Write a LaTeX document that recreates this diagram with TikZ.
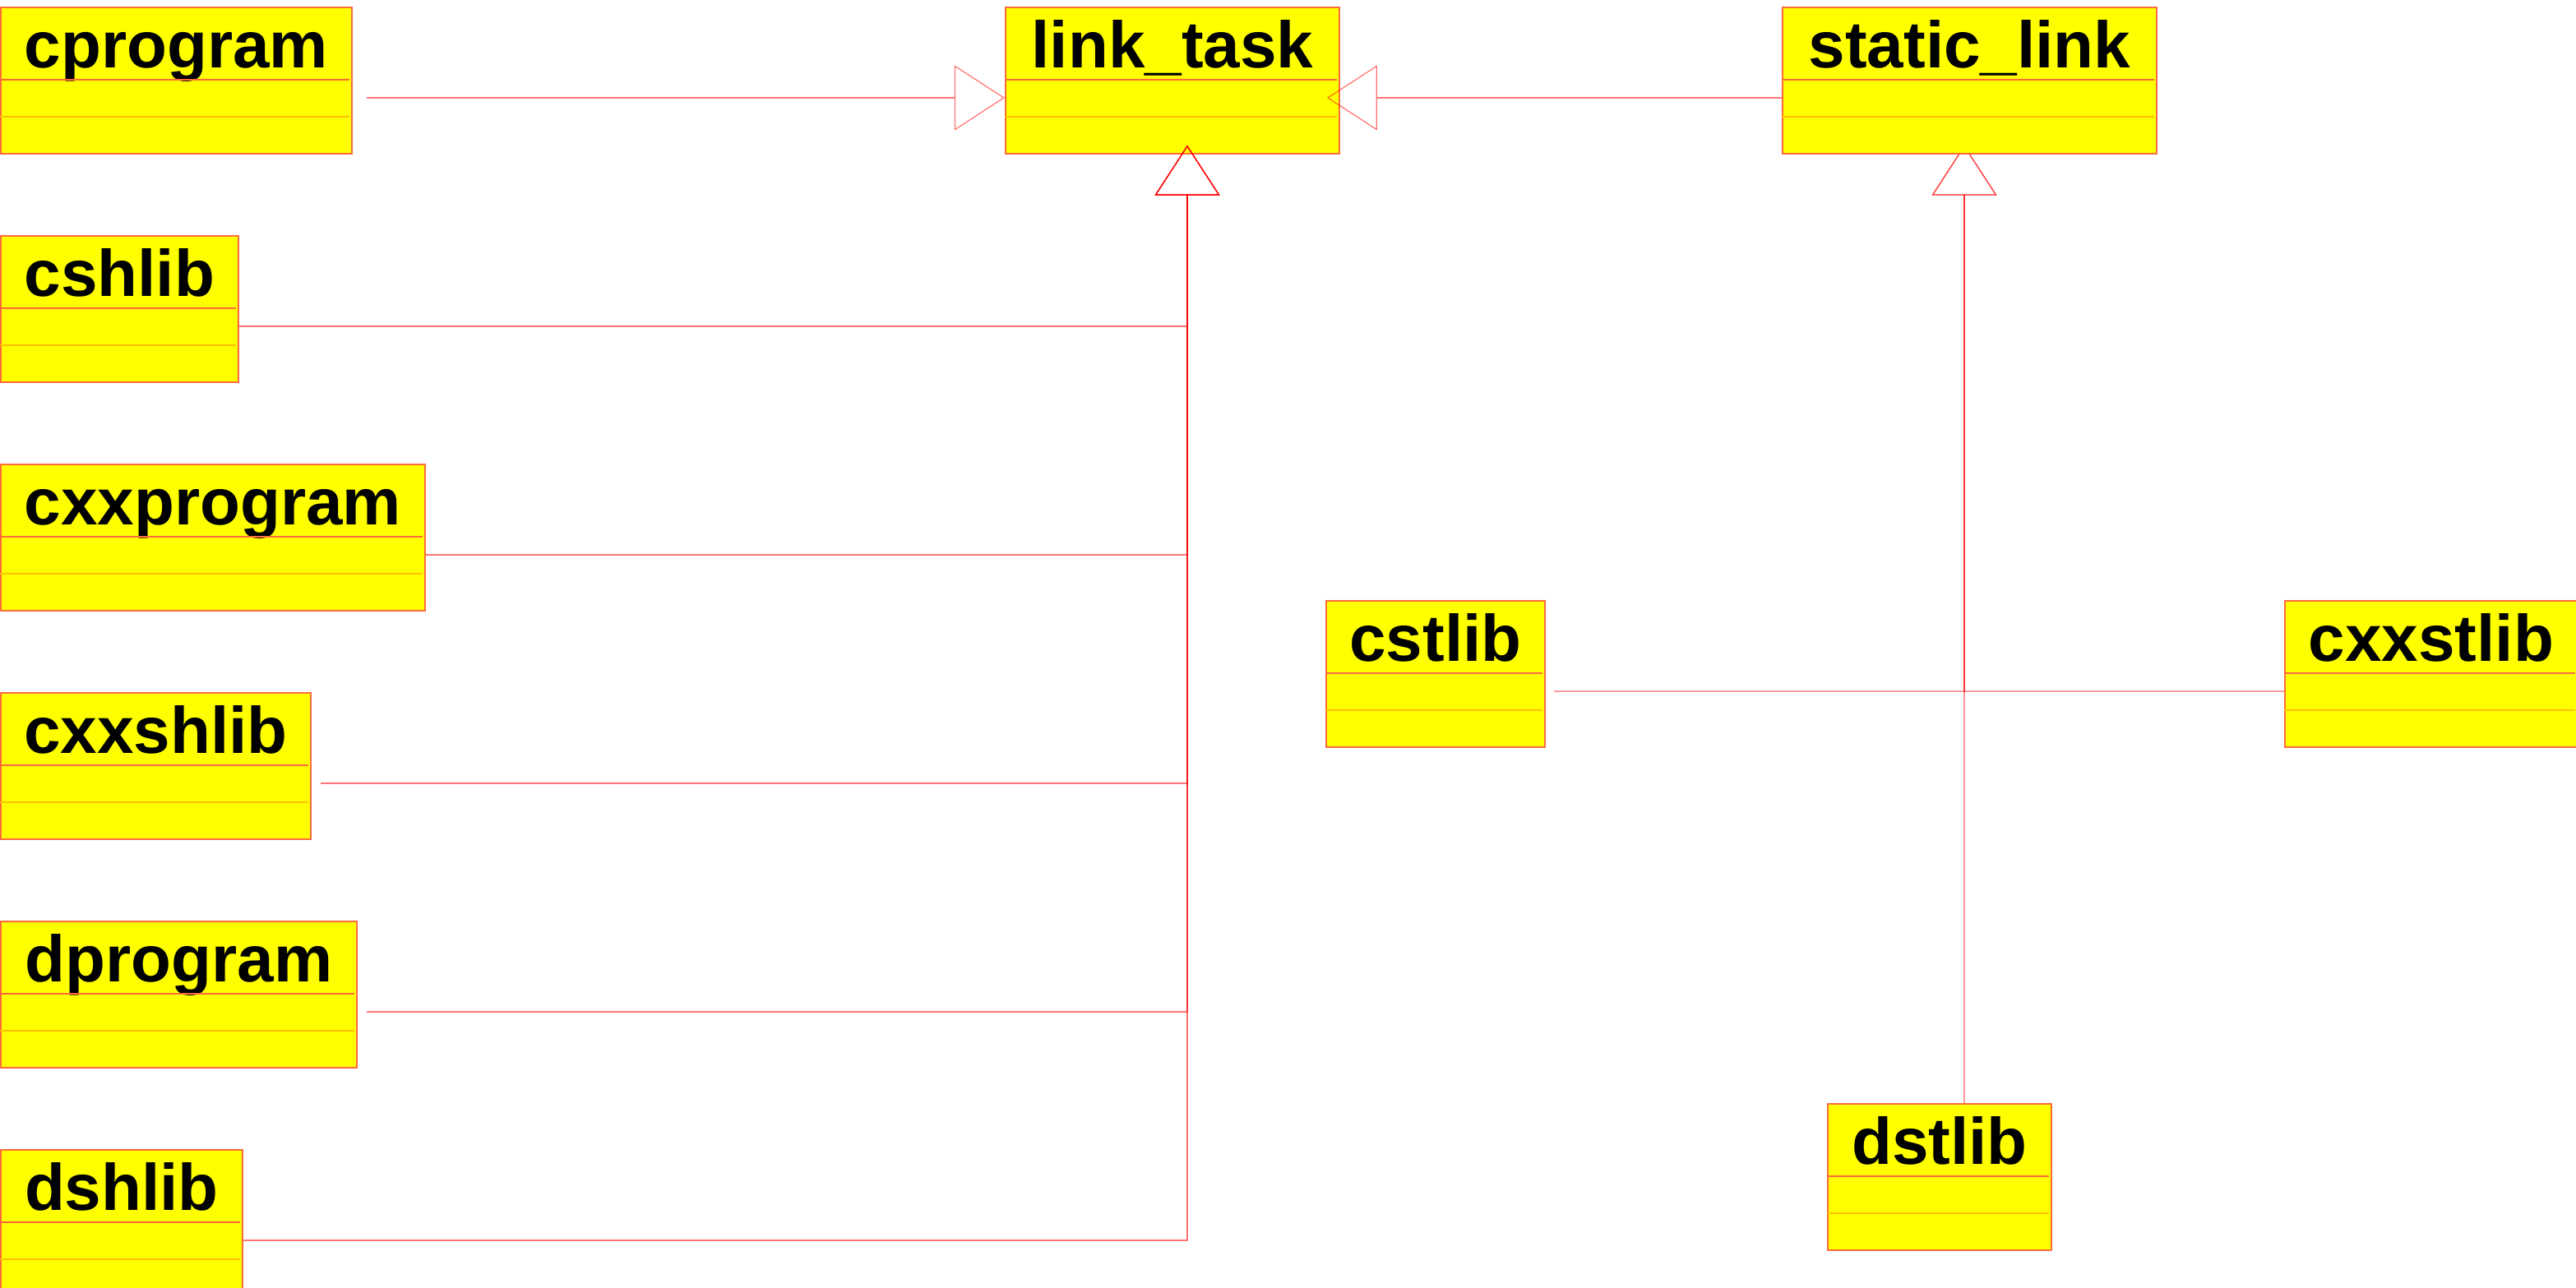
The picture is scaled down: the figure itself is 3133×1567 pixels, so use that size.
\documentclass[tikz,border=0pt]{standalone}
\usepackage{fontspec}
\setmainfont{Liberation Sans}
\usetikzlibrary{arrows.meta,calc,backgrounds}
\definecolor{classfill}{HTML}{FFFF00}
\definecolor{classline}{HTML}{FF6A3D}
\definecolor{sepgold}{HTML}{FFC000}

\begin{document}
\begin{tikzpicture}[x=0.01cm, y=-0.01cm,
  umlclass/.style={draw=classline, line width=0.45pt, fill=classfill,
    anchor=north west, inner sep=0pt, minimum width=#1,
    text height=0.74cm, text depth=1.04cm,
    font=\bfseries\fontsize{22.76pt}{27pt}\selectfont,
    append after command={
      ($(\tikzlastnode.north west)+(0,89)$) edge[draw=classline, line width=0.45pt] ($(\tikzlastnode.north east)+(-4,89)$)
      ($(\tikzlastnode.north west)+(0,134)$) edge[draw=sepgold, line width=0.6pt] ($(\tikzlastnode.north east)+(-4,134)$)
    }},
  gen/.style={draw=red, draw opacity=0.55, line width=0.35pt,
    -{Triangle[open, length=0.61cm, width=0.79cm]}},
  genpale/.style={gen, draw opacity=0.4}]
\useasboundingbox (0,0) rectangle (3133,1567);

% classes
\node[umlclass=4.27cm] (cprogram) at (0,8) {cprogram};
\node[umlclass=2.89cm] (cshlib) at (0,286) {cshlib};
\node[umlclass=5.16cm] (cxxprogram) at (0,564) {cxxprogram};
\node[umlclass=3.77cm] (cxxshlib) at (0,842) {cxxshlib};
\node[umlclass=4.33cm] (dprogram) at (0,1120) {dprogram};
\node[umlclass=2.94cm] (dshlib) at (0,1398) {dshlib};
\node[umlclass=4.06cm] (link_task) at (1222,8) {link\_task};
\node[umlclass=4.55cm] (static_link) at (2167,8) {static\_link};
\node[umlclass=2.66cm] (cstlib) at (1612,730) {cstlib};
\node[umlclass=3.56cm] (cxxstlib) at (2778,730) {cxxstlib};
\node[umlclass=2.72cm] (dstlib) at (2222,1342) {dstlib};

\coordinate (ltip) at ($(link_task.south west)+(222,-11)$);
\coordinate (stip) at ($(static_link.south west)+(222,-11)$);

% link_task
\draw[gen] ($(cprogram.north east)+(17,111)$) -- ($(link_task.north west)+(0,111)$);
\draw[gen] ($(static_link.north west)+(0,111)$) -- ($(link_task.north east)+(-16,111)$);
\draw[gen] ($(cshlib.north east)+(0,111)$) -| (ltip);
\draw[gen] ($(cxxprogram.north east)+(0,111)$) -| (ltip);
\draw[gen] ($(cxxshlib.north east)+(11,111)$) -| (ltip);
\draw[gen] ($(dprogram.north east)+(11,111)$) -| (ltip);
\draw[gen] ($(dshlib.north east)+(0,111)$) -| (ltip);

% static_link
\begin{pgfonlayer}{background}
\draw[genpale] ($(cstlib.north east)+(10,111)$) -| (stip);
\draw[genpale] ($(cxxstlib.north west)+(0,111)$) -| (stip);
\draw[genpale] (dstlib.north -| stip) -- (stip);
\end{pgfonlayer}
\end{tikzpicture}
\end{document}
